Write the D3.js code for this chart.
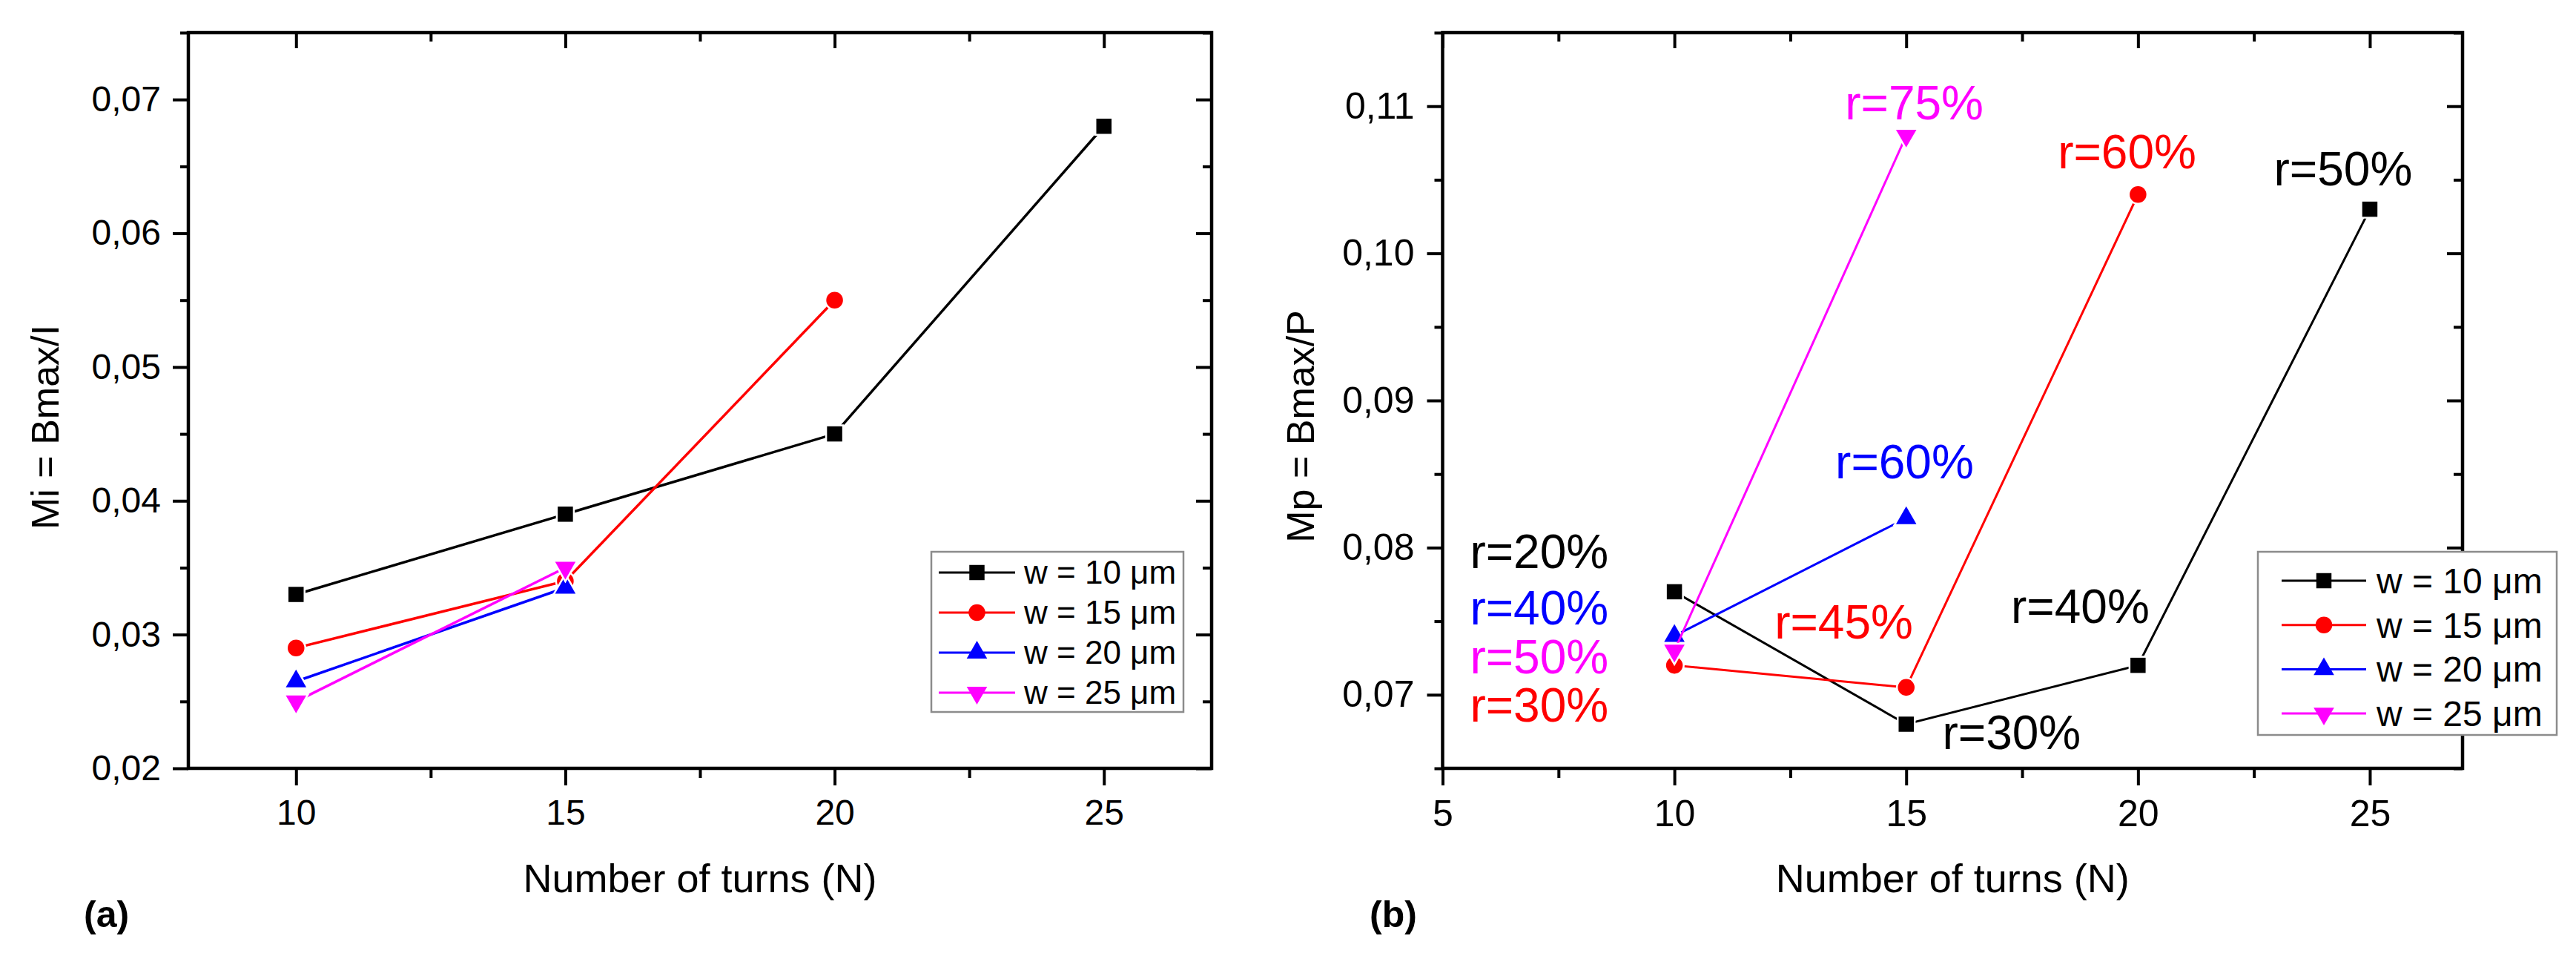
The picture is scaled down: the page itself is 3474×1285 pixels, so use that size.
<!DOCTYPE html>
<html><head><meta charset="utf-8">
<script src="https://cdn.jsdelivr.net/npm/d3@7"></script>
<style>
body{margin:0;background:#fff}
svg text{font-family:"Liberation Sans",Arial,Helvetica,sans-serif}
</style>
</head><body>
<svg id="chart" width="3474" height="1285" xmlns="http://www.w3.org/2000/svg"></svg>
<script>
// ---------------- DATA ----------------
const turns = [10, 15, 20, 25];
const seriesNames = ["w = 10 μm", "w = 15 μm", "w = 20 μm", "w = 25 μm"];
const seriesColors = ["#000000", "#ff0000", "#0000ff", "#ff00ff"];
const seriesSymbols = ["square", "circle", "triangle", "triangleDown"];

// panel (a): Mi = Bmax/I
const miW10 = [0.033, 0.039, 0.045, 0.068];
const miW15 = [0.029, 0.034, 0.055];
const miW20 = [0.0265, 0.0335];
const miW25 = [0.025, 0.035];

// panel (b): Mp = Bmax/P
const mpW10 = [0.077, 0.068, 0.072, 0.103];
const mpW15 = [0.072, 0.0705, 0.104];
const mpW20 = [0.074, 0.082];
const mpW25 = [0.073, 0.108];

// tick values
const aXTicks = [10, 15, 20, 25];
const aXMinor = [12.5, 17.5, 22.5];
const aYTicks = [0.02, 0.03, 0.04, 0.05, 0.06, 0.07];
const aYMinor = [0.025, 0.035, 0.045, 0.055, 0.065, 0.075];
const bXTicks = [5, 10, 15, 20, 25];
const bXMinor = [7.5, 12.5, 17.5, 22.5];
const bYTicks = [0.07, 0.08, 0.09, 0.10, 0.11];
const bYMinor = [0.065, 0.075, 0.085, 0.095, 0.105, 0.115];

// annotations in panel (b): text, series index, N, value (baseline-left anchor)
const bLabelText  = ["r=75%", "r=60%", "r=50%", "r=60%", "r=45%", "r=40%", "r=30%", "r=20%", "r=40%", "r=50%", "r=30%"];
const bLabelSeries = [3, 1, 0, 2, 1, 0, 0, 0, 2, 3, 1];
const bLabelN     = [13.68, 18.27, 22.93, 13.47, 12.16, 17.26, 15.78, 5.59, 5.59, 5.59, 5.59];
const bLabelV     = [0.1091, 0.1058, 0.1046, 0.0847, 0.0738, 0.0749, 0.0663, 0.0786, 0.0748, 0.07146, 0.06817];

// ---------------- DRAW ----------------
const svg = d3.select("#chart");
svg.append("rect").attr("width", 3474).attr("height", 1285).attr("fill", "#fff");

const fmtComma = v => d3.format(".2f")(v).replace(".", ",");

function symbolPath(kind, size) {
  const t = {square: d3.symbolSquare, circle: d3.symbolCircle, triangle: d3.symbolTriangle, triangleDown: d3.symbolTriangle}[kind];
  return d3.symbol().type(t).size(size)();
}
const symSize = {square: 420, circle: 400, triangle: 330, triangleDown: 330};

function drawMarker(g, kind, cx, cy, color, halo) {
  const p = g.append("path")
    .attr("d", symbolPath(kind, symSize[kind]))
    .attr("transform", `translate(${cx},${cy})` + (kind === "triangleDown" ? " rotate(180)" : ""))
    .attr("fill", color);
  if (halo) p.attr("stroke", "#fff").attr("stroke-width", 5).attr("paint-order", "stroke");
}

function drawPanel(cfg) {
  const g = svg.append("g");
  const x = d3.scaleLinear().domain(cfg.xDomain).range([cfg.left, cfg.right]);
  const y = d3.scaleLinear().domain(cfg.yDomain).range([cfg.bottom, cfg.top]);

  const styleAxis = (sel) => {
    sel.select(".domain").remove();
    sel.selectAll(".tick line").attr("stroke", "#000").attr("stroke-width", 4);
    sel.selectAll(".tick text").attr("fill", "#000").style("font-size", cfg.tickFont + "px");
  };

  // bottom major / minor
  g.append("g").attr("transform", `translate(0,${cfg.bottom})`)
    .call(d3.axisBottom(x).tickValues(cfg.xTicks).tickSize(23).tickPadding(19).tickFormat(d3.format("d")))
    .call(styleAxis);
  g.append("g").attr("transform", `translate(0,${cfg.bottom})`)
    .call(d3.axisBottom(x).tickValues(cfg.xMinor).tickSize(13).tickFormat(""))
    .call(styleAxis);
  // top (inward)
  g.append("g").attr("transform", `translate(0,${cfg.top})`)
    .call(d3.axisTop(x).tickValues(cfg.xTicks).tickSize(-21).tickFormat(""))
    .call(styleAxis);
  g.append("g").attr("transform", `translate(0,${cfg.top})`)
    .call(d3.axisTop(x).tickValues(cfg.xMinor).tickSize(-12).tickFormat(""))
    .call(styleAxis);
  // left major / minor
  g.append("g").attr("transform", `translate(${cfg.left},0)`)
    .call(d3.axisLeft(y).tickValues(cfg.yTicks).tickSize(21).tickPadding(cfg.yPad).tickFormat(fmtComma))
    .call(styleAxis);
  g.append("g").attr("transform", `translate(${cfg.left},0)`)
    .call(d3.axisLeft(y).tickValues(cfg.yMinor).tickSize(11).tickFormat(""))
    .call(styleAxis);
  // right (inward)
  g.append("g").attr("transform", `translate(${cfg.right},0)`)
    .call(d3.axisRight(y).tickValues(cfg.yTicks).tickSize(-21).tickFormat(""))
    .call(styleAxis);
  g.append("g").attr("transform", `translate(${cfg.right},0)`)
    .call(d3.axisRight(y).tickValues(cfg.yMinor).tickSize(-12).tickFormat(""))
    .call(styleAxis);

  // frame
  g.append("rect")
    .attr("x", cfg.left).attr("y", cfg.top)
    .attr("width", cfg.right - cfg.left).attr("height", cfg.bottom - cfg.top)
    .attr("fill", "none").attr("stroke", "#000").attr("stroke-width", 4.5);

  // series
  const line = d3.line().x(d => x(d[0])).y(d => y(d[1]));
  cfg.series.forEach((vals, i) => {
    const pts = vals.map((v, k) => [turns[k], v]);
    g.append("path").attr("d", line(pts)).attr("fill", "none")
      .attr("stroke", seriesColors[i]).attr("stroke-width", cfg.lineWidth);
    pts.forEach(p => drawMarker(g, seriesSymbols[i], x(p[0]), y(p[1]), seriesColors[i], true));
  });

  // annotations
  if (cfg.labels) {
    cfg.labels.text.forEach((t, i) => {
      g.append("text").attr("x", x(cfg.labels.n[i])).attr("y", y(cfg.labels.v[i]))
        .attr("fill", seriesColors[cfg.labels.series[i]])
        .style("font-size", "64px").text(t);
    });
  }

  // axis titles
  g.append("text").attr("x", (cfg.left + cfg.right) / 2).attr("y", 1203)
    .attr("text-anchor", "middle").style("font-size", "54px").text("Number of turns (N)");
  g.append("text").attr("transform", `translate(${cfg.yTitleX},${cfg.yTitleY}) rotate(-90)`)
    .attr("text-anchor", "middle").style("font-size", "52px").text(cfg.yTitle);
  g.append("text").attr("x", cfg.tagX).attr("y", 1250)
    .style("font-size", "50px").style("font-weight", "bold").text(cfg.tag);

  // legend
  const L = cfg.legend;
  g.append("rect").attr("x", L.x).attr("y", L.y).attr("width", L.w).attr("height", L.h)
    .attr("fill", "#fff").attr("stroke", "#8c8c8c").attr("stroke-width", 2.5);
  seriesNames.forEach((name, i) => {
    const ry = L.y + L.firstRow + i * L.rowStep;
    g.append("line").attr("x1", L.x + L.lineStart).attr("x2", L.x + L.lineEnd)
      .attr("y1", ry).attr("y2", ry).attr("stroke", seriesColors[i]).attr("stroke-width", 3);
    drawMarker(g, seriesSymbols[i], L.x + (L.lineStart + L.lineEnd) / 2, ry, seriesColors[i], false);
    g.append("text").attr("x", L.x + L.textStart).attr("y", ry).attr("dy", "0.35em")
      .style("font-size", L.font + "px").attr("fill", "#000").text(name);
  });
}

drawPanel({
  left: 254, right: 1634, top: 44, bottom: 1036,
  xDomain: [8, 27], yDomain: [0.02, 0.075],
  xTicks: aXTicks, xMinor: aXMinor, yTicks: aYTicks, yMinor: aYMinor,
  tickFont: 48, yPad: 16, lineWidth: 3.5,
  series: [miW10, miW15, miW20, miW25],
  yTitle: "Mi = Bmax/I", yTitleX: 79, yTitleY: 576,
  tag: "(a)", tagX: 113,
  legend: {x: 1256, y: 744, w: 340, h: 216, firstRow: 28, rowStep: 54,
           lineStart: 10, lineEnd: 113, textStart: 125, font: 44}
});

drawPanel({
  left: 1945.5, right: 3321, top: 44, bottom: 1036,
  xDomain: [5, 27], yDomain: [0.065, 0.115],
  xTicks: bXTicks, xMinor: bXMinor, yTicks: bYTicks, yMinor: bYMinor,
  tickFont: 50, yPad: 17, lineWidth: 3,
  series: [mpW10, mpW15, mpW20, mpW25],
  labels: {text: bLabelText, series: bLabelSeries, n: bLabelN, v: bLabelV},
  yTitle: "Mp = Bmax/P", yTitleX: 1772, yTitleY: 575,
  tag: "(b)", tagX: 1847,
  legend: {x: 3045, y: 744, w: 403, h: 247, firstRow: 39, rowStep: 59.7,
           lineStart: 32, lineEnd: 146, textStart: 160, font: 48}
});
</script>
</body></html>
